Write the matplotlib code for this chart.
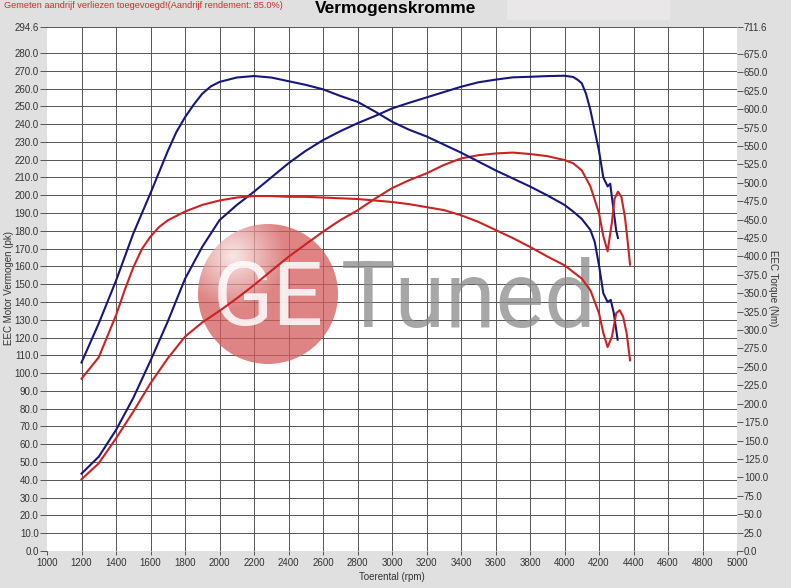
import matplotlib
matplotlib.use("Agg")
import matplotlib.pyplot as plt
import numpy as np
from matplotlib.patches import Ellipse, Rectangle

# ---------------- data ----------------
rpm_bp = [1200, 1300, 1400, 1500, 1600, 1700, 1800, 1900, 2000, 2100, 2200, 2300, 2400, 2500,
          2600, 2700, 2800, 2900, 3000, 3100, 3200, 3300, 3400, 3500, 3600, 3700, 3800, 3900,
          4000, 4050, 4075, 4100, 4125, 4150, 4200, 4225, 4250, 4265, 4280, 4300, 4310]
power_blue = [43.5, 53, 68, 86, 107, 129, 153, 171, 186, 194.5, 202, 210, 218, 225,
              231, 236, 240.5, 244.5, 248.8, 252, 255, 258, 261, 263.5, 265, 266.3, 266.6, 267,
              267.2, 266.5, 265, 263, 257, 248, 225, 210, 205, 206.5, 195, 180, 176]

rpm_bt = [1200, 1300, 1400, 1500, 1600, 1700, 1750, 1800, 1850, 1900, 1950, 2000, 2100, 2200,
          2300, 2400, 2500, 2600, 2700, 2800, 2900, 3000, 3100, 3200, 3300, 3400, 3500, 3600,
          3700, 3800, 3900, 4000, 4050, 4100, 4150, 4175, 4200, 4225, 4250, 4268, 4285, 4308]
torque_blue = [256, 309, 367, 431, 486, 543, 569, 589, 606, 621, 631, 637, 643, 645,
               643, 638, 633, 627, 618, 610, 597, 583, 572, 563, 552, 541, 529, 517,
               506, 495, 483, 470, 461, 451, 436, 420, 388, 350, 338, 341, 324, 287]

rpm_rp = [1200, 1300, 1400, 1500, 1600, 1700, 1800, 1900, 2000, 2100, 2200, 2300, 2400, 2500,
          2600, 2700, 2800, 2900, 3000, 3100, 3200, 3300, 3400, 3500, 3600, 3700, 3800, 3900,
          4000, 4050, 4100, 4150, 4200, 4225, 4250, 4275, 4290, 4310, 4330, 4350, 4365, 4380]
power_red = [40.3, 49.3, 63.3, 78.3, 94.3, 108.3, 120.5, 128.5, 135, 142, 149.5, 157.5, 165.4, 172.5,
             179.5, 186, 191.5, 198, 204, 208.5, 212.3, 217, 220.7, 222.5, 223.5, 224, 223.2, 222,
             219.8, 218, 214, 205, 190, 177, 168.5, 185, 198, 202, 199, 188, 175, 161]

rpm_rt = [1200, 1300, 1400, 1450, 1500, 1550, 1600, 1650, 1700, 1750, 1800, 1900, 2000, 2100, 2200,
          2300, 2400, 2500, 2600, 2700, 2800, 2900, 3000, 3100, 3200, 3300, 3400, 3500, 3600,
          3700, 3800, 3900, 4000, 4100, 4150, 4200, 4225, 4250, 4275, 4300, 4320, 4340, 4360, 4380]
torque_red = [234, 263, 320, 354, 385, 410, 427, 440, 449, 455, 461, 470, 476, 480, 482,
              482, 481, 481, 480, 479, 478, 476, 474, 471, 467, 463, 456, 447, 436,
              425, 413, 400, 388, 370, 354, 323, 296, 277, 291, 323, 327, 318, 296, 259]

x_ticks = list(range(1000, 5001, 200))
left_ticks = list(range(0, 281, 10)) + [294.6]
right_ticks = list(range(0, 676, 25)) + [711.6]

title = "Vermogenskromme"
note = "Gemeten aandrijf verliezen toegevoegd!(Aandrijf rendement: 85.0%)"
xlabel = "Toerental (rpm)"
ylabel_left = "EEC Motor Vermogen (pk)"
ylabel_right = "EEC Torque (Nm)"

# ---------------- style ----------------
W, H = 791, 588
BG = "#e0e0e0"
GRID = "#555555"
BLUE = "#16167e"
RED = "#cc2222"
TXT = "#333333"
FONT = ["Liberation Sans", "DejaVu Sans"]
plt.rcParams["font.family"] = FONT

fig = plt.figure(figsize=(W / 100, H / 100), dpi=100, facecolor=BG)
L, R, T, B = 47, 737, 27, 551
ax = fig.add_axes([L / W, 1 - B / H, (R - L) / W, (B - T) / H])
ax.set_facecolor("white")
for s in ax.spines.values():
    s.set_visible(False)

ax.set_xlim(1000, 5000)
ax.set_ylim(0, 294.6)
ax.set_xticks(x_ticks)
ax.set_xticklabels([str(v) for v in x_ticks], fontsize=7, color=TXT)
ax.set_yticks(left_ticks)
ax.set_yticklabels(["%.1f" % v for v in left_ticks], fontsize=7, color=TXT)
ax.tick_params(axis="y", direction="out", length=5, width=0.7, color=GRID, pad=1)
ax.tick_params(axis="x", direction="out", length=3, width=0.7, color=GRID, pad=2)
ax.grid(True, color=GRID, linewidth=0.7)
xg = ax.xaxis.get_gridlines()
xg[0].set_visible(False)
xg[-1].set_visible(False)
ax.yaxis.get_gridlines()[0].set_visible(False)
ax.set_axisbelow(True)
ax.set_xlabel(xlabel, fontsize=7, color=TXT, labelpad=3)

# watermark logo (axes-fraction positions)
def fx(px):
    return (px - L) / (R - L)
def fy(py):
    return (B - py) / (B - T)

cx, cy, rad = 268, 294, 70
circ = Ellipse((fx(cx), fy(cy)), 2 * rad / (R - L), 2 * rad / (B - T), transform=ax.transAxes,
               facecolor="none", edgecolor="none", zorder=2.1)
ax.add_patch(circ)
n = 200
yy, xx = np.mgrid[-1:1:n * 1j, -1:1:n * 1j]
d = np.sqrt((xx + 0.5) ** 2 + (yy + 0.55) ** 2)
t = np.clip(d / 0.75, 0, 1)[..., None]
base = np.array([0.83, 0.36, 0.36])
hi = np.array([0.97, 0.88, 0.88])
img = hi[None, None, :] * (1 - t) + base[None, None, :] * t
alpha = np.full((n, n, 1), 0.75)
rgba = np.concatenate([img, alpha], axis=2)
im = ax.imshow(rgba, extent=[fx(cx - rad), fx(cx + rad), fy(cy + rad), fy(cy - rad)],
               transform=ax.transAxes, origin="upper", aspect="auto", zorder=2.1,
               interpolation="bilinear")
im.set_clip_path(circ)
LOGO_FONT = ["Roboto", "DejaVu Sans"]
ax.text(fx(268), fy(325), "GE", transform=ax.transAxes, ha="center", va="baseline",
        fontsize=64, color="white", alpha=0.85, family=LOGO_FONT, fontweight="normal",
        zorder=2.2)
ax.text(fx(341), fy(327), "Tuned", transform=ax.transAxes, ha="left", va="baseline",
        fontsize=66, color="#8a8a8a", alpha=0.75, family=LOGO_FONT, fontweight="normal",
        zorder=2.2)

# power curves
ax.plot(rpm_bp, power_blue, color=BLUE, lw=1.5, zorder=3, solid_joinstyle="round")
ax.plot(rpm_rp, power_red, color=RED, lw=1.5, zorder=3, solid_joinstyle="round")

# torque (right axis)
ax2 = ax.twinx()
for s in ax2.spines.values():
    s.set_visible(False)
ax2.set_ylim(0, 711.6)
ax2.set_yticks(right_ticks)
ax2.set_yticklabels(["%.1f" % v for v in right_ticks], fontsize=7, color=TXT)
ax2.tick_params(axis="y", direction="out", length=4, width=0.7, color=GRID, pad=1)
ax2.plot(rpm_bt, torque_blue, color=BLUE, lw=1.5, zorder=3, solid_joinstyle="round")
ax2.plot(rpm_rt, torque_red, color=RED, lw=1.5, zorder=3, solid_joinstyle="round")

# axis titles placed like the reference
fig.text(9 / W, 1 - 288 / H, ylabel_left, rotation=90, ha="center", va="center",
         fontsize=7, color=TXT)
fig.text(773 / W, 1 - 288 / H, ylabel_right, rotation=-90, ha="center", va="center",
         fontsize=7, color=TXT)

# header
fig.patches.append(Rectangle((507 / W, 1 - 20 / H), 163 / W, 20 / H, transform=fig.transFigure,
                             facecolor="#e9e7e7", edgecolor="none", zorder=0))
fig.text(0.5, 1 - 9 / H, title, ha="center", va="center", fontsize=12.5, fontweight="bold",
         color="black")
fig.text(4 / W, 1 - 5 / H, note, ha="left", va="center", fontsize=6.6, color="#d42a2a")

fig.savefig("out.png", dpi=100, facecolor=BG)
